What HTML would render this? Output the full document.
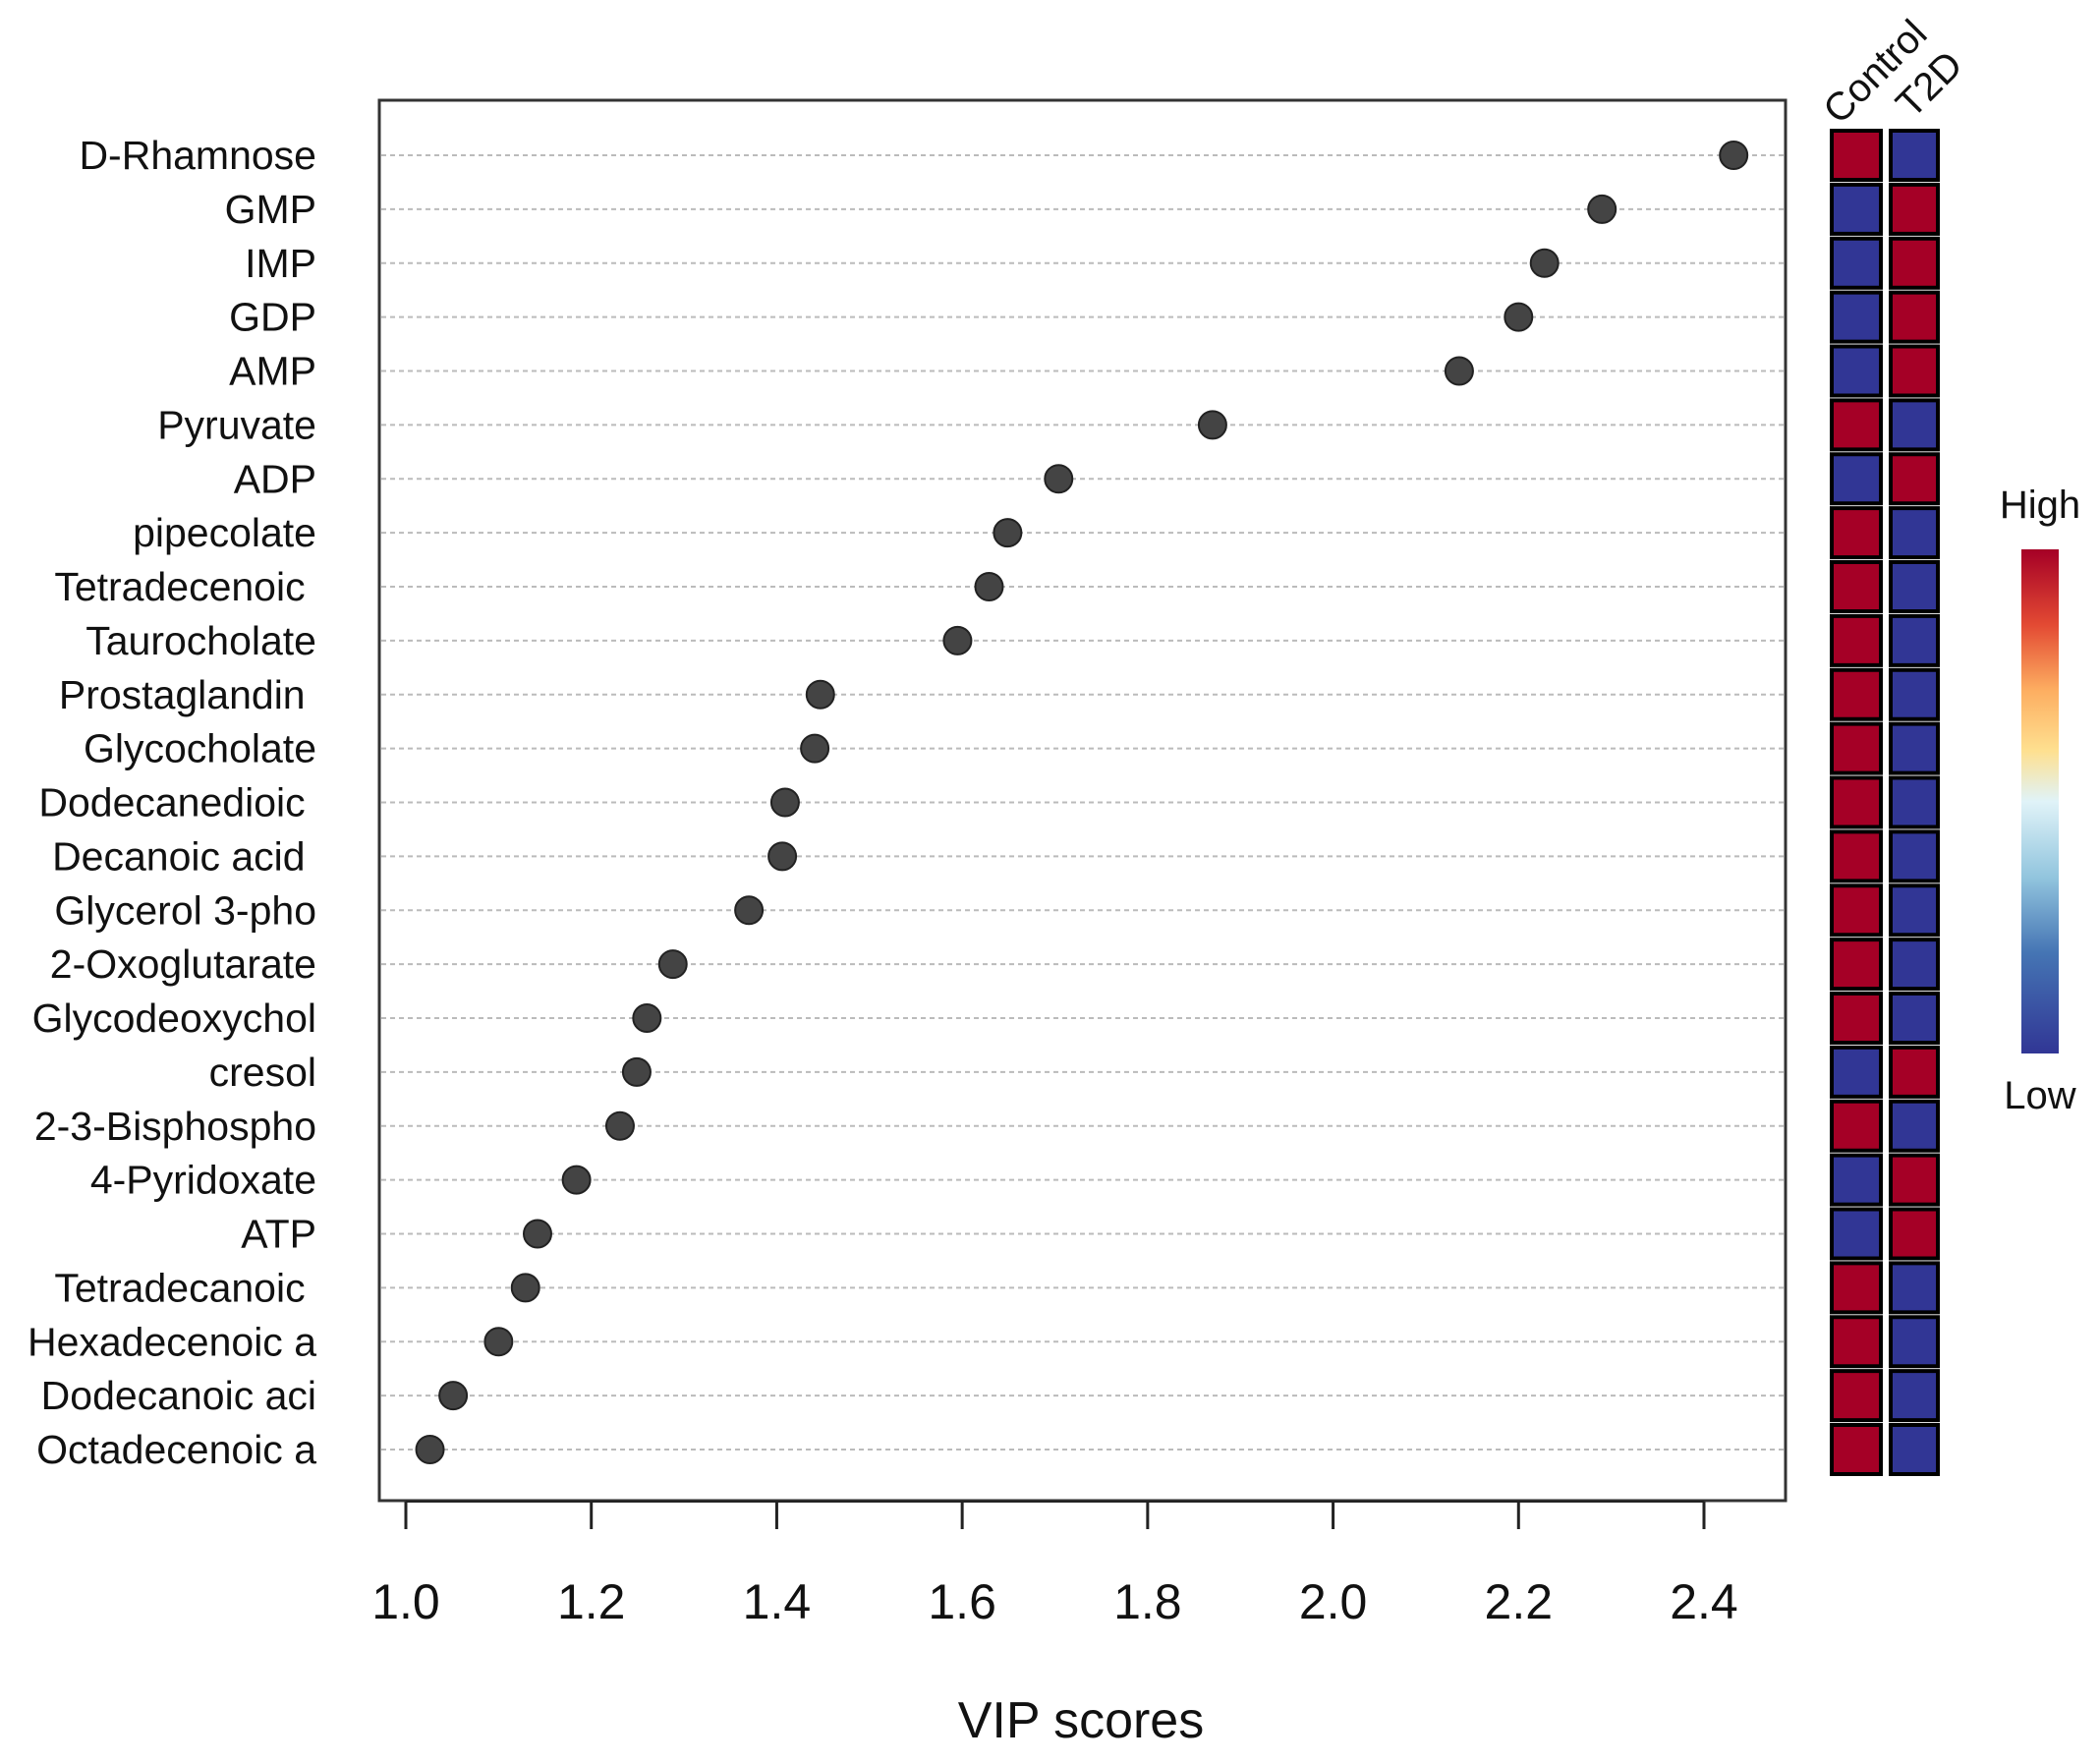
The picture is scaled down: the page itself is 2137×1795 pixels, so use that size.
<!DOCTYPE html>
<html><head><meta charset="utf-8"><style>
html,body{margin:0;padding:0;background:#fff;}
svg{display:block;font-family:"Liberation Sans",sans-serif;}
</style></head><body>
<svg id="chart" width="2137" height="1795" viewBox="0 0 2137 1795">
<defs>
<linearGradient id="cb" x1="0" y1="1" x2="0" y2="0">
<stop offset="0" stop-color="#313695"/><stop offset="0.2" stop-color="#4575b4"/><stop offset="0.35" stop-color="#92c5de"/>
<stop offset="0.5" stop-color="#e0f3f8"/><stop offset="0.6" stop-color="#fee090"/><stop offset="0.72" stop-color="#fdae61"/>
<stop offset="0.85" stop-color="#e34a33"/><stop offset="1" stop-color="#a50026"/>
</linearGradient>
</defs>
<rect x="386" y="102" width="1431" height="1425" fill="none" stroke="#333" stroke-width="3"/>
<g id="grid"></g><g id="dots"></g><g id="ylabels"></g><g id="xaxis"></g><g id="heat"></g>
<text x="1100" y="1768" font-size="52" text-anchor="middle" fill="#111">VIP scores</text>
<text transform="translate(1872,128) rotate(-45)" font-size="40" fill="#111">Control</text>
<text transform="translate(1946,122) rotate(-45)" font-size="40" fill="#111">T2D</text>
<rect x="2057" y="559" width="38" height="513" fill="url(#cb)"/>
<text x="2076" y="527" font-size="40" text-anchor="middle" fill="#111">High</text>
<text x="2076" y="1128" font-size="40" text-anchor="middle" fill="#111">Low</text>
</svg>
<script>
const categories=["D-Rhamnose","GMP","IMP","GDP","AMP","Pyruvate","ADP","pipecolate","Tetradecenoic\u00a0","Taurocholate","Prostaglandin\u00a0","Glycocholate","Dodecanedioic\u00a0","Decanoic acid\u00a0","Glycerol 3-pho","2-Oxoglutarate","Glycodeoxychol","cresol","2-3-Bisphospho","4-Pyridoxate","ATP","Tetradecanoic\u00a0","Hexadecenoic a","Dodecanoic aci","Octadecenoic a"];
const vipValues=[2.432,2.29,2.228,2.20,2.136,1.87,1.704,1.649,1.629,1.595,1.447,1.441,1.409,1.406,1.37,1.288,1.26,1.249,1.231,1.184,1.142,1.129,1.10,1.051,1.026];
const controlHigh=[1,0,0,0,0,1,0,1,1,1,1,1,1,1,1,1,1,0,1,0,0,1,1,1,1];
const xTicks=[1.0,1.2,1.4,1.6,1.8,2.0,2.2,2.4];
const NS="http://www.w3.org/2000/svg";
function xs(v){return 413+(v-1.0)*(1734-413)/1.4;}
function ys(i){return 158+i*(1475-158)/(categories.length-1);}
function mk(t,a,p){const e=document.createElementNS(NS,t);for(const k in a)e.setAttribute(k,a[k]);document.getElementById(p).appendChild(e);return e;}
const RED="#a50026",BLUE="#313695";
categories.forEach((c,i)=>{
  const y=ys(i);
  const g=mk("line",{x1:388,x2:1815,y1:y,y2:y,stroke:"#bbb","stroke-width":2,"stroke-dasharray":"5,4"},"grid");
  
  
  const d=mk("circle",{cx:xs(vipValues[i]),cy:y,r:14,fill:"#444",stroke:"#222","stroke-width":2},"dots");
  
  
  const t=mk("text",{x:322,y:y+14,"font-size":41,"text-anchor":"end",fill:"#111"},"ylabels");
  t.textContent=c;
  
  
  const h=controlHigh[i];
  const a=mk("rect",{x:1864,y:y-25,width:50,height:50,fill:h?RED:BLUE,stroke:"#000","stroke-width":4},"heat");
  
  
  const b=mk("rect",{x:1924,y:y-25,width:48,height:50,fill:h?BLUE:RED,stroke:"#000","stroke-width":4},"heat");
  
  
});
const ax=mk("line",{x1:xs(1.0),x2:xs(2.4),y1:1528,y2:1528,stroke:"#222","stroke-width":2},"xaxis");


xTicks.forEach(v=>{
  const l=mk("line",{x1:xs(v),x2:xs(v),y1:1528,y2:1556,stroke:"#222","stroke-width":3},"xaxis");
  
  
  const t=mk("text",{x:xs(v),y:1647,"font-size":50,"text-anchor":"middle",fill:"#111"},"xaxis");
  t.textContent=v.toFixed(1);
  
  
});
</script>
</body></html>
